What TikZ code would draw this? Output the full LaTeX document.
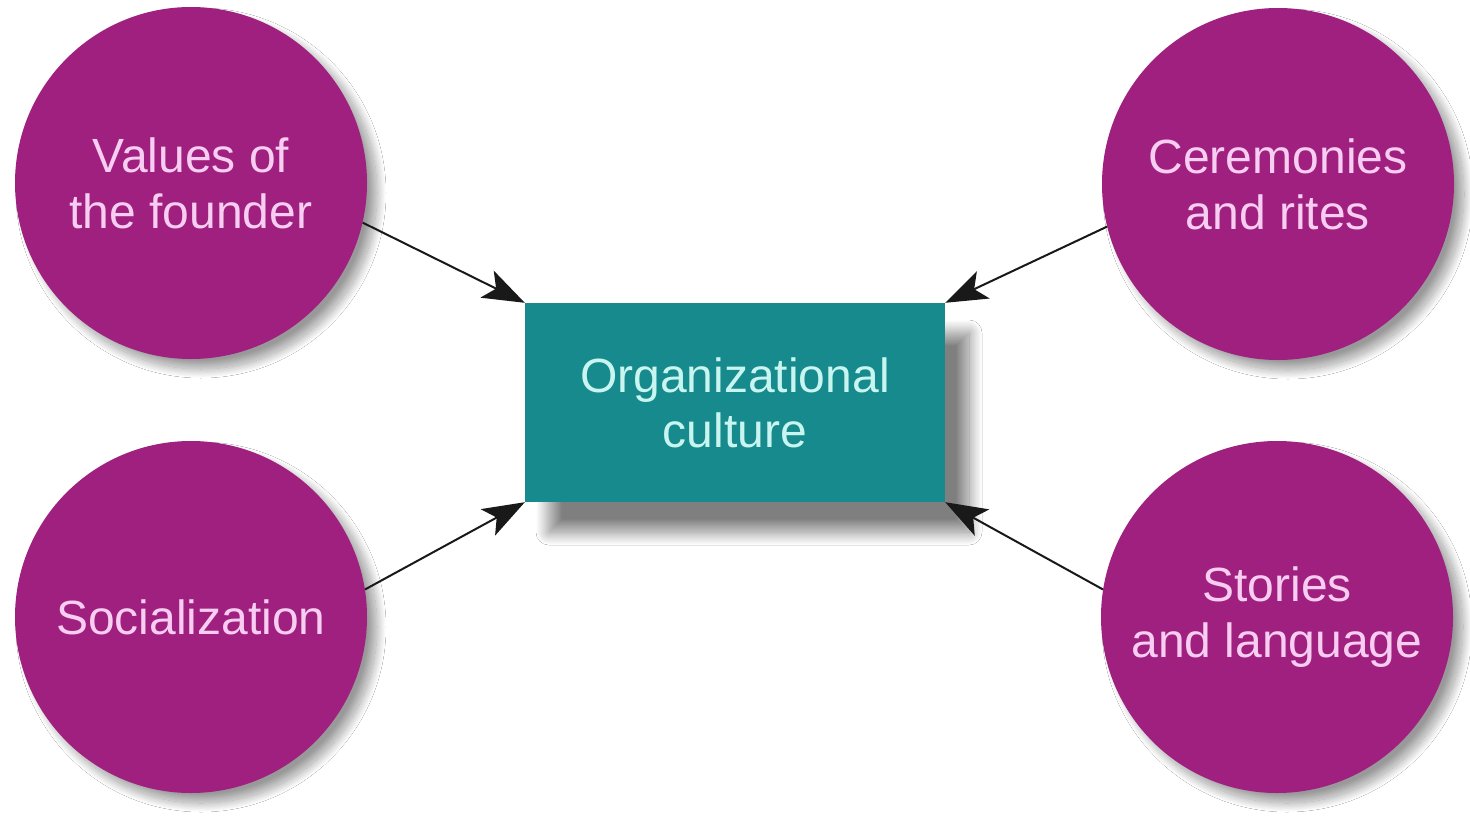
\documentclass[tikz,border=0pt]{standalone}
\usepackage{fontspec}
\setmainfont{Liberation Sans}
\usetikzlibrary{arrows.meta,shadows.blur}
\definecolor{circfill}{HTML}{A0207F}
\definecolor{circtext}{HTML}{F8CDF2}
\definecolor{boxfill}{HTML}{178A8D}
\definecolor{boxtext}{HTML}{C8F5F0}
\tikzset{
  bubble/.style={circle, fill=circfill, minimum size=352pt, inner sep=0pt,
    text=circtext, align=center, font=\fontsize{48}{56}\selectfont,
    blur shadow={shadow xshift=10pt, shadow yshift=-10pt, shadow blur radius=9pt, shadow blur steps=25, shadow opacity=40}},
  centerbox/.style={rectangle, fill=boxfill, minimum width=420pt, minimum height=199pt, inner sep=0pt,
    text=boxtext, align=center, font=\fontsize{48}{55}\selectfont,
    blur shadow={shadow xshift=24pt, shadow yshift=-30pt, shadow blur radius=13pt, shadow blur steps=25, shadow opacity=50}},
  conn/.style={line width=2pt, draw=black!90, -{Stealth[length=42pt,width=30pt,inset=10pt]}}
}
\begin{document}
\begin{tikzpicture}[x=1pt,y=-1pt]
\useasboundingbox[fill=white] (0,0) rectangle (1470,822);
\node[bubble] (tl) at (191,183) {Values of\\the founder};
\node[bubble] (bl) at (191,617) {Socialization};
\node[bubble] (tr) at (1278,184) {Ceremonies\\and rites};
\node[bubble] (br) at (1277,617) {Stories\\and language};
\node[centerbox] (org) at (735,402.5) {Organizational\\culture};
\draw[conn] (tl.-13) -- (org.north west);
\draw[conn] (bl.9) -- (org.south west);
\draw[conn] (tr.194.5) -- (org.north east);
\draw[conn] (br.171) -- (org.south east);
\end{tikzpicture}
\end{document}
